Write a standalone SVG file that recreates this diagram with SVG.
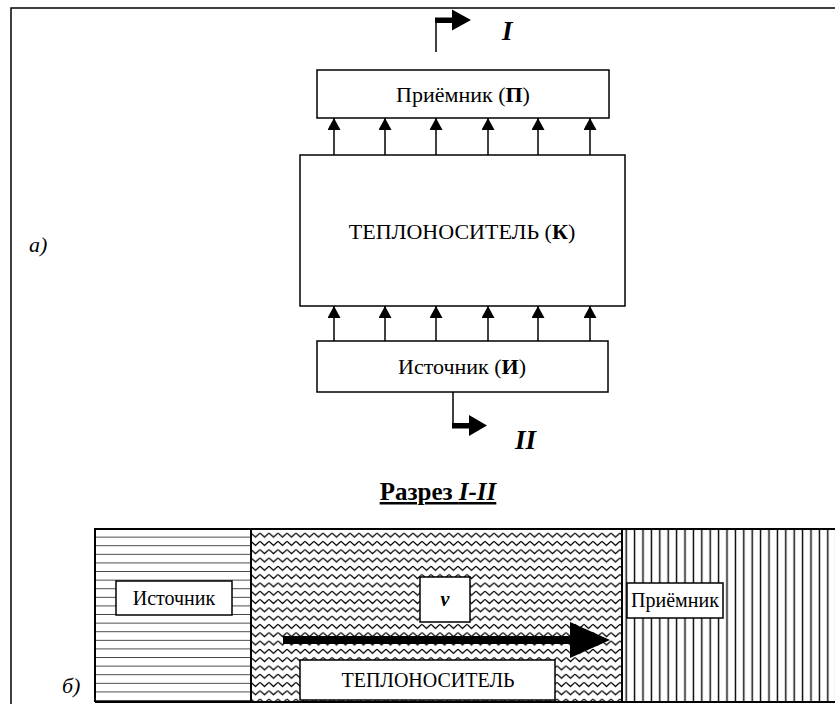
<svg xmlns="http://www.w3.org/2000/svg" width="835" height="704" viewBox="0 0 835 704" font-family="'Liberation Serif','Times New Roman',serif">
<style>
text{font-family:"Liberation Serif","Times New Roman",serif;fill:#000}
.lbl{font-size:22px;text-anchor:middle}
.sl{font-size:20px;text-anchor:middle}
.box{fill:#fff;stroke:#000;stroke-width:1.5}
.ln{stroke:#000;stroke-width:1.5;fill:none}
.b{font-weight:bold}
.bi{font-weight:bold;font-style:italic}
.it{font-style:italic}
</style>
<defs>
<marker id="ah" viewBox="0 0 12 13" refX="12" refY="6.5" markerWidth="12" markerHeight="13" markerUnits="userSpaceOnUse" orient="auto"><path d="M0,0 L12,6.5 L0,13z"/></marker>
<pattern id="hl" x="95" y="529" width="10" height="8.6" patternUnits="userSpaceOnUse"><line x1="0" y1="8.6" x2="10" y2="8.6" stroke="#000" stroke-width="1.4"/></pattern>
<pattern id="vl" x="622" y="0" width="8.4" height="10" patternUnits="userSpaceOnUse"><line x1="4.2" y1="0" x2="4.2" y2="10" stroke="#000" stroke-width="1.4"/></pattern>
<pattern id="zz" x="251" y="531" width="9" height="8.3" patternUnits="userSpaceOnUse"><path d="M0,2 L4.5,6 L9,2" fill="none" stroke="#000" stroke-width="1.3"/></pattern>
</defs>
<path class="ln" d="M11,704 V8 H835"/>
<text class="it" x="29" y="252" font-size="22">а)</text>
<g id="section-I">
<path class="ln" d="M436,52 V20"/>
<path d="M435,17.5 H455 V23 H435z"/>
<path d="M452,9.5 L471,20 L452,30.5z"/>
<text class="bi" x="502" y="40" font-size="27">I</text>
</g>
<g id="receiver">
<rect class="box" x="317" y="70" width="292" height="48"/>
<text class="lbl" x="463" y="102">Приёмник (<tspan class="b">П</tspan>)</text>
</g>
<g id="carrier">
<rect class="box" x="300" y="155" width="325" height="151"/>
<text class="lbl" x="462" y="239">ТЕПЛОНОСИТЕЛЬ (<tspan class="b">К</tspan>)</text>
</g>
<g id="source">
<rect class="box" x="317" y="341" width="291" height="51"/>
<text class="lbl" x="462" y="374">Источник (<tspan class="b">И</tspan>)</text>
</g>
<g id="connectors">
<line class="ln" marker-end="url(#ah)" x1="334" y1="155" x2="334" y2="118"/>
<line class="ln" marker-end="url(#ah)" x1="385" y1="155" x2="385" y2="118"/>
<line class="ln" marker-end="url(#ah)" x1="436" y1="155" x2="436" y2="118"/>
<line class="ln" marker-end="url(#ah)" x1="488" y1="155" x2="488" y2="118"/>
<line class="ln" marker-end="url(#ah)" x1="538" y1="155" x2="538" y2="118"/>
<line class="ln" marker-end="url(#ah)" x1="590" y1="155" x2="590" y2="118"/>
<line class="ln" marker-end="url(#ah)" x1="334" y1="341" x2="334" y2="306"/>
<line class="ln" marker-end="url(#ah)" x1="385" y1="341" x2="385" y2="306"/>
<line class="ln" marker-end="url(#ah)" x1="436" y1="341" x2="436" y2="306"/>
<line class="ln" marker-end="url(#ah)" x1="488" y1="341" x2="488" y2="306"/>
<line class="ln" marker-end="url(#ah)" x1="538" y1="341" x2="538" y2="306"/>
<line class="ln" marker-end="url(#ah)" x1="590" y1="341" x2="590" y2="306"/>
</g>
<g id="section-II">
<path class="ln" d="M453,392 V426"/>
<path d="M452,423 H472 V428.5 H452z"/>
<path d="M469,415 L487,425.5 L469,436z"/>
<text class="bi" x="515" y="449" font-size="27">II</text>
</g>
<text x="438" y="500" font-size="25" class="b" text-anchor="middle" text-decoration="underline">Разрез <tspan font-style="italic">I-II</tspan></text>
<text class="it" x="62" y="693" font-size="22">б)</text>
<g id="cut">
<rect x="95" y="529" width="156" height="173" fill="url(#hl)"/>
<rect x="251" y="529" width="371" height="173" fill="url(#zz)"/>
<rect x="622" y="529" width="213" height="173" fill="url(#vl)"/>
<path d="M95,702 V529 H835 M95,702 H835 M251,529 V702 M622,529 V702" fill="none" stroke="#000" stroke-width="2"/>
</g>
<g id="cut-source">
<rect class="box" x="116" y="581" width="116" height="34"/>
<text class="sl" x="174" y="605">Источник</text>
</g>
<g id="cut-v">
<rect class="box" x="420" y="577" width="50" height="45"/>
<text class="bi" x="445" y="606" font-size="20" text-anchor="middle">v</text>
</g>
<g id="cut-arrow">
<path d="M283,636 H574 V644 H283z"/>
<path d="M570,622 L610,640 L570,658z"/>
</g>
<g id="cut-carrier">
<rect class="box" x="300" y="660" width="255" height="40"/>
<text class="sl" x="428" y="687">ТЕПЛОНОСИТЕЛЬ</text>
</g>
<g id="cut-receiver">
<rect class="box" x="627" y="583" width="96" height="35"/>
<text class="sl" x="675" y="607" font-size="18">Приёмник</text>
</g>
</svg>
